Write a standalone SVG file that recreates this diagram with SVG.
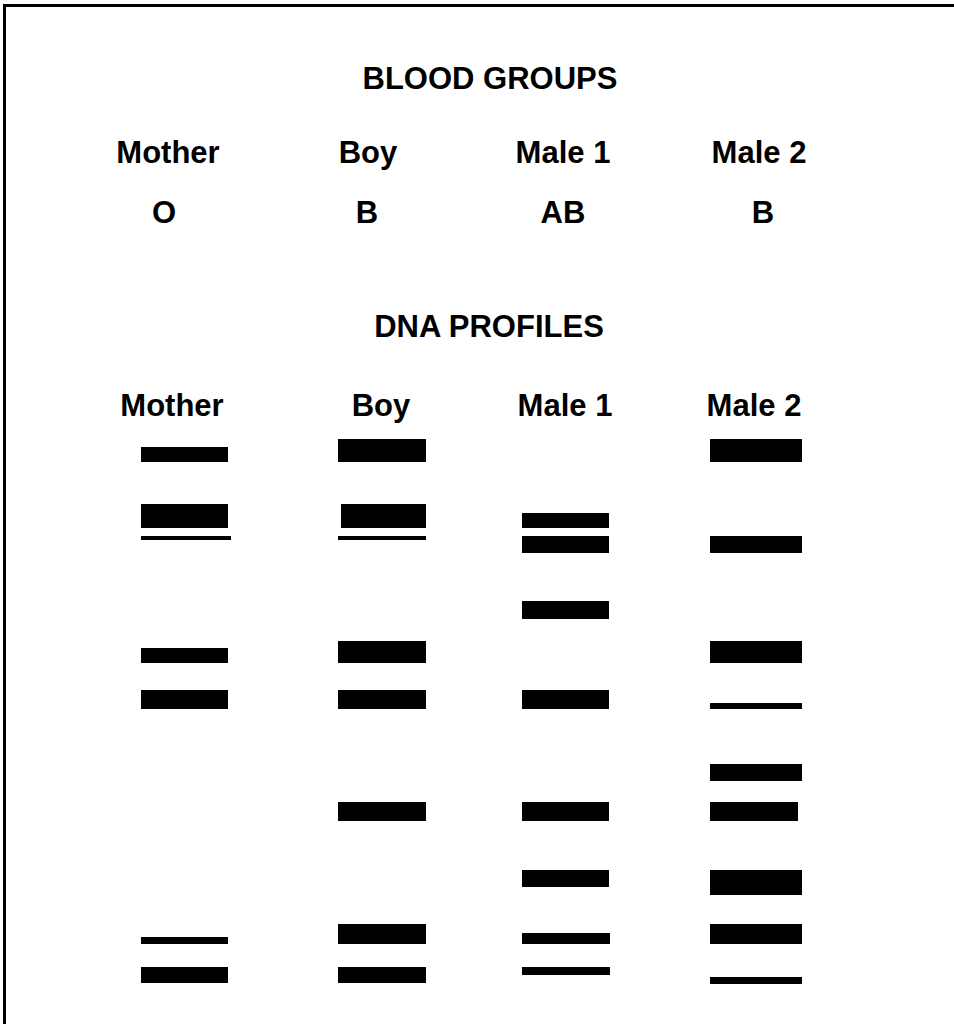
<svg xmlns="http://www.w3.org/2000/svg" width="954" height="1024" viewBox="0 0 954 1024">
<style>
text{font-family:"Liberation Sans",Arial,sans-serif;font-weight:bold;font-size:31px;fill:#000;text-anchor:middle}
.b{fill:#000}
</style>
<rect width="954" height="1024" fill="#fff"/>
<path d="M4.5,1024 V5.5 H954" fill="none" stroke="#000" stroke-width="3"/>
<g id="titles">
<text x="490" y="89">BLOOD GROUPS</text>
<text x="489" y="337">DNA PROFILES</text>
</g>
<g id="blood-groups">
<text x="168" y="163">Mother</text>
<text x="368" y="163">Boy</text>
<text x="563" y="163">Male 1</text>
<text x="759" y="163">Male 2</text>
<text x="164" y="223">O</text>
<text x="367" y="223">B</text>
<text x="563" y="223">AB</text>
<text x="763" y="223">B</text>
</g>
<g id="lane-mother">
<text x="172" y="416">Mother</text>
<rect class="b" x="141" y="447" width="87" height="15"/>
<rect class="b" x="141" y="504" width="87" height="24"/>
<rect class="b" x="141" y="536" width="90" height="4"/>
<rect class="b" x="141" y="648" width="87" height="15"/>
<rect class="b" x="141" y="690" width="87" height="19"/>
<rect class="b" x="141" y="937" width="87" height="7"/>
<rect class="b" x="141" y="967" width="87" height="16"/>
</g>
<g id="lane-boy">
<text x="381" y="416">Boy</text>
<rect class="b" x="338" y="439" width="88" height="23"/>
<rect class="b" x="341" y="504" width="85" height="24"/>
<rect class="b" x="338" y="536" width="88" height="4"/>
<rect class="b" x="338" y="641" width="88" height="22"/>
<rect class="b" x="338" y="690" width="88" height="19"/>
<rect class="b" x="338" y="802" width="88" height="19"/>
<rect class="b" x="338" y="924" width="88" height="20"/>
<rect class="b" x="338" y="967" width="88" height="16"/>
</g>
<g id="lane-male1">
<text x="565" y="416">Male 1</text>
<rect class="b" x="522" y="513" width="87" height="15"/>
<rect class="b" x="522" y="536" width="87" height="17"/>
<rect class="b" x="522" y="601" width="87" height="18"/>
<rect class="b" x="522" y="690" width="87" height="19"/>
<rect class="b" x="522" y="802" width="87" height="19"/>
<rect class="b" x="522" y="870" width="87" height="17"/>
<rect class="b" x="522" y="933" width="88" height="11"/>
<rect class="b" x="522" y="967" width="88" height="8"/>
</g>
<g id="lane-male2">
<text x="754" y="416">Male 2</text>
<rect class="b" x="710" y="439" width="92" height="23"/>
<rect class="b" x="710" y="536" width="92" height="17"/>
<rect class="b" x="710" y="641" width="92" height="22"/>
<rect class="b" x="710" y="703" width="92" height="6"/>
<rect class="b" x="710" y="764" width="92" height="17"/>
<rect class="b" x="710" y="802" width="88" height="19"/>
<rect class="b" x="710" y="870" width="92" height="25"/>
<rect class="b" x="710" y="924" width="92" height="20"/>
<rect class="b" x="710" y="977" width="92" height="7"/>
</g>
</svg>
